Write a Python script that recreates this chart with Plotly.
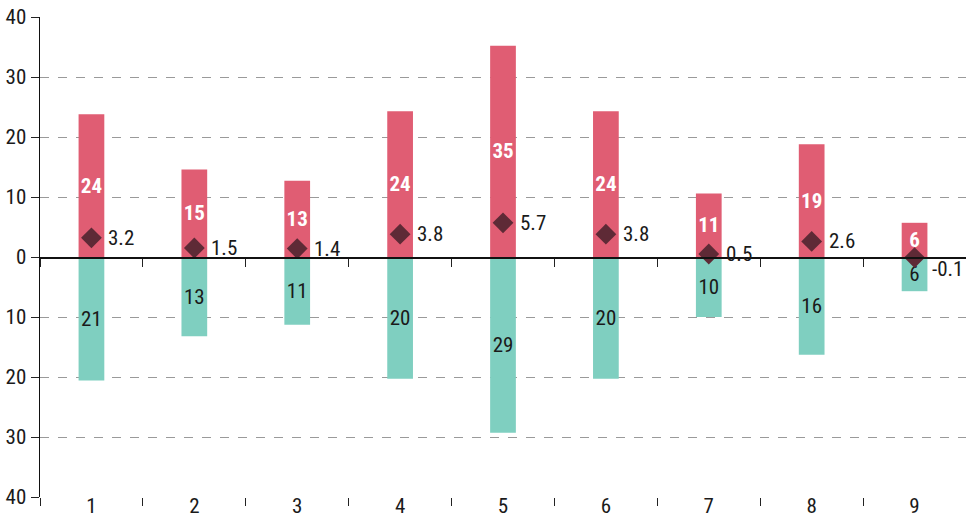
import plotly.graph_objects as go

categories = ["1", "2", "3", "4", "5", "6", "7", "8", "9"]
positive = [23.8, 14.6, 12.7, 24.3, 35.2, 24.3, 10.6, 18.8, 5.7]
negative = [20.6, 13.2, 11.3, 20.3, 29.3, 20.3, 10.0, 16.3, 5.7]
net = [3.2, 1.5, 1.4, 3.8, 5.7, 3.8, 0.5, 2.6, -0.1]
y_ticks = [-40, -30, -20, -10, 0, 10, 20, 30, 40]

FONT = "Liberation Sans Narrow, Roboto Condensed, Roboto, sans-serif"
RED = "#e05d73"
TEAL = "#7fcfc0"
DIAMOND = "#5e2a36"
INK = "#1a1a1a"
FS = 21

fig = go.Figure()

fig.add_trace(go.Bar(
    x=categories, y=positive,
    marker=dict(color=RED, line=dict(width=0)),
    width=0.25,
    text=[f"{v:.0f}" for v in positive],
    textposition="inside", insidetextanchor="middle", textangle=0,
    textfont=dict(family=FONT, size=FS, color="white", weight="bold"),
    constraintext="none",
    hoverinfo="skip",
))
fig.add_trace(go.Bar(
    x=categories, y=[-v for v in negative],
    marker=dict(color=TEAL, line=dict(width=0)),
    width=0.25,
    text=[f"{v:.0f}" for v in negative],
    textposition="inside", insidetextanchor="middle", textangle=0,
    textfont=dict(family=FONT, size=FS, color=INK),
    constraintext="none",
    hoverinfo="skip",
))
fig.add_trace(go.Scatter(
    x=categories, y=net,
    xaxis="x2",
    mode="markers",
    marker=dict(symbol="diamond", size=16, color=DIAMOND),
    cliponaxis=False,
    hoverinfo="skip",
))

annotations = []
for i, v in enumerate(net):
    annotations.append(dict(
        x=i, y=v, xref="x", yref="y",
        text=f"{v:.1f}", showarrow=False,
        xanchor="left", yanchor="middle",
        xshift=15, yshift=(-11 if v < 0 else 0),
        font=dict(family=FONT, size=FS, color=INK),
    ))

xrange = [-0.5, len(categories) - 0.5]

fig.update_layout(
    width=966, height=519,
    margin=dict(l=40, r=0, t=17, b=22),
    paper_bgcolor="white", plot_bgcolor="white",
    barmode="relative",
    showlegend=False,
    annotations=annotations,
    font=dict(family=FONT, size=FS, color=INK),
    xaxis=dict(
        type="category", automargin=False, range=xrange,
        showgrid=False, showline=False, zeroline=False,
        ticks="outside", tickson="boundaries", ticklen=8, tickcolor="#222", tickwidth=1,
        tickfont=dict(family=FONT, size=FS, color=INK),
        ticklabelstandoff=-6,
    ),
    xaxis2=dict(
        type="category", overlaying="x", range=xrange,
        anchor="free", position=0.5, automargin=False,
        showgrid=False, showline=True, linecolor="#111", linewidth=1.5,
        zeroline=False,
        ticks="outside", tickson="boundaries", ticklen=8, tickcolor="#222", tickwidth=1,
        showticklabels=False,
    ),
    yaxis=dict(
        range=[-40, 40], automargin=False,
        tickvals=y_ticks,
        ticktext=[str(abs(v)) for v in y_ticks],
        showgrid=True, gridcolor="#9a9a9a", griddash="dash", gridwidth=1,
        zeroline=False,
        showline=True, linecolor="#111", linewidth=1.5,
        ticks="outside", ticklen=8, tickcolor="#222",
        tickfont=dict(family=FONT, size=FS, color=INK),
    ),
)

fig.write_html(
    "out.html",
    config={"displayModeBar": False, "staticPlot": True},
    post_script="document.body.style.margin='0';document.body.style.overflow='hidden';",
)
